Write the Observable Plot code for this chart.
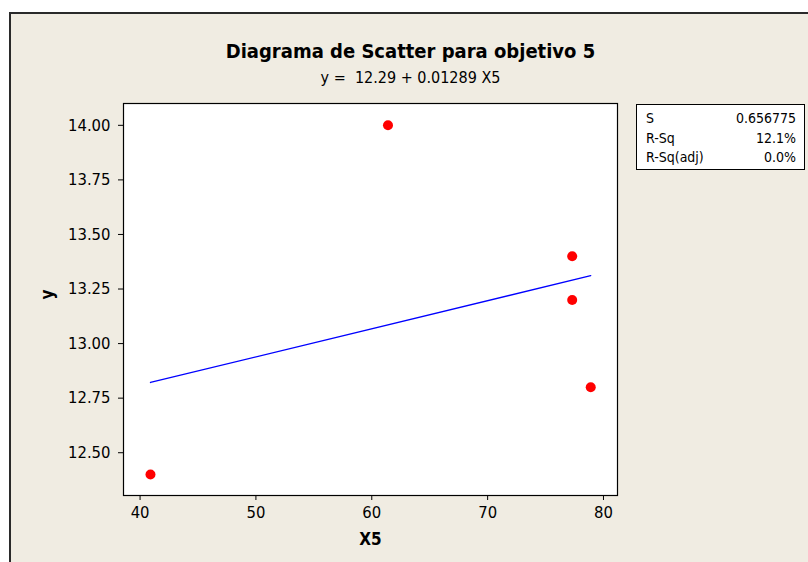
<!DOCTYPE html>
<html>
<head>
<meta charset="utf-8">
<script src="https://cdn.jsdelivr.net/npm/d3@7"></script>
<script src="https://cdn.jsdelivr.net/npm/@observablehq/plot@0.6"></script>
<style>
  html, body { margin: 0; padding: 0; background: #ffffff; }
  #wrap { position: relative; width: 808px; height: 562px; overflow: hidden; font-family: "DejaVu Sans Condensed", "DejaVu Sans", sans-serif; }
  #bg { position: absolute; left: 9px; top: 12px; width: 820px; height: 580px; background: #F0ECE2; border-left: 2px solid #2a2a2a; border-top: 2px solid #2a2a2a; }
  #chart { position: absolute; left: 0; top: 0; }
  .title { position: absolute; left: 0; width: 821px; text-align: center; color: #000; }
  #t1 { top: 39px; font-size: 20px; font-weight: bold; }
  #t2 { top: 68px; font-size: 16px; }
  #stats { position: absolute; left: 636px; top: 104px; width: 169px; height: 66px; border: 1px solid #000; background: #fff; font-size: 14px; box-sizing: border-box; padding: 4px 8px 0 9px; }
  #stats .row { display: flex; justify-content: space-between; height: 19.5px; line-height: 19.5px; }
</style>
</head>
<body>
<div id="wrap">
  <div id="bg"></div>
  <div id="chart"></div>
  <div class="title" id="t1"></div>
  <div class="title" id="t2"></div>
  <div id="stats"></div>
</div>
<script>
const title = "Diagrama de Scatter para objetivo 5";
const subtitle = "y =\u00a0\u00a012.29 + 0.01289 X5";
const xValues = [40.9, 61.4, 77.3, 77.3, 78.9];
const yValues = [12.4, 14.0, 13.4, 13.2, 12.8];
const xTicks = [40, 50, 60, 70, 80];
const yTicks = [12.5, 12.75, 13.0, 13.25, 13.5, 13.75, 14.0];
const statLabels = ["S", "R-Sq", "R-Sq(adj)"];
const statValues = ["0.656775", "12.1%", "0.0%"];
const xLabel = "X5";
const yLabel = "y";

const data = xValues.map((x, i) => ({x, y: yValues[i]}));

document.getElementById("t1").textContent = title;
document.getElementById("t2").textContent = subtitle;
const stats = document.getElementById("stats");
statLabels.forEach((l, i) => {
  const row = document.createElement("div");
  row.className = "row";
  const a = document.createElement("span"); a.textContent = l;
  const b = document.createElement("span"); b.textContent = statValues[i];
  row.appendChild(a); row.appendChild(b);
  stats.appendChild(row);
});

const chart = Plot.plot({
  width: 808,
  height: 562,
  marginLeft: 123,
  marginRight: 191,
  marginTop: 103,
  marginBottom: 67,
  style: {background: "transparent", fontFamily: "'DejaVu Sans Condensed', 'DejaVu Sans', sans-serif", color: "#000"},
  x: {domain: [38.57, 81.21]},
  y: {domain: [12.304, 14.10]},
  marks: [
    Plot.frame({fill: "white", stroke: "black", strokeWidth: 1.2}),
    Plot.axisX({ticks: xTicks, tickSize: 5, tickPadding: 6, fontSize: 16.5, label: null, tickFormat: d3.format("d")}),
    Plot.axisY({ticks: yTicks, tickSize: 5, tickPadding: 8, fontSize: 16.5, label: null, tickFormat: d3.format(".2f")}),
    Plot.linearRegressionY(data, {x: "x", y: "y", stroke: "#0000FF", strokeWidth: 1.3, ci: 0}),
    Plot.dot(data, {x: "x", y: "y", r: 5, fill: "#FF0000", stroke: null}),
    Plot.text([xLabel], {frameAnchor: "bottom", text: d => d, dy: 44, fontSize: 17, fontWeight: "bold", lineAnchor: "middle"}),
    Plot.text([yLabel], {frameAnchor: "left", text: d => d, dx: -76, rotate: -90, fontSize: 17, fontWeight: "bold", lineAnchor: "middle"})
  ]
});
document.getElementById("chart").appendChild(chart);
</script>
</body>
</html>
